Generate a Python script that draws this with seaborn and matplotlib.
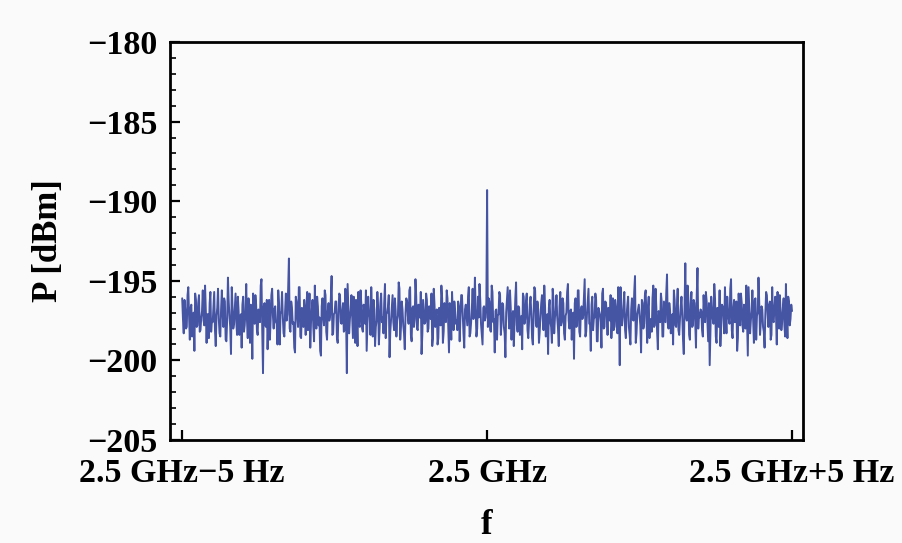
import seaborn as sns
import matplotlib.pyplot as plt
from matplotlib.ticker import MultipleLocator
import pandas as pd
import numpy as np

# Offset frequency from 2.5 GHz [Hz]
f_start, f_stop = -5.0, 5.0

# Measured power [dBm] on the main sample grid, left to right
power_a = [
    -196.1, -198.3, -196.8, -197.9, -195.4, -198.7, -196.5, -197.3, -199.4, -196.2,
    -197.8, -195.9, -198.1, -196.9, -197.5, -195.3, -198.9, -197.1, -196.4, -198.2,
    -197.6, -195.7, -199.1, -196.7, -197.4, -198.5, -195.6, -197.9, -196.3, -198.8,
    -194.8, -197.2, -199.6, -196.6, -197.7, -195.8, -198.4, -196.9, -197.3, -199.2,
    -196.0, -197.8, -195.2, -198.6, -197.0, -196.5, -199.9, -197.4, -195.9, -198.1,
    -196.8, -197.6, -194.9, -200.8, -196.4, -197.9, -199.3, -196.2, -197.5, -195.5,
    -198.0, -196.6, -197.7, -195.6, -199.0, -196.9, -197.3, -198.5, -195.8, -197.1,
    -193.6, -198.2, -196.7, -197.6, -199.5, -196.3, -197.9, -195.4, -198.6, -197.0,
    -196.2, -198.4, -195.7, -197.5, -199.2, -196.8, -197.9, -195.3, -198.0, -196.6,
    -197.3, -199.7, -196.1, -197.8, -195.9, -198.7, -196.4, -197.2, -194.7, -198.3,
    -197.0, -196.3, -198.9, -195.8, -197.6, -196.9, -198.2, -195.5, -200.8, -196.7,
    -197.4, -195.9, -198.6, -197.1, -196.2, -199.1, -197.8, -195.6, -198.0, -196.5,
    -197.7, -199.4, -196.0, -197.3, -195.4, -198.5, -196.8, -197.9, -195.7, -199.0,
    -196.4, -197.6, -198.3, -195.2, -197.1, -196.6, -199.8, -197.4, -195.9, -198.1,
    -196.9, -197.5, -195.1, -198.7, -196.3, -197.8, -199.3, -196.1, -197.2, -195.6,
    -198.4, -196.7, -197.9, -194.9, -198.0, -196.5, -197.3, -199.6, -196.2, -197.7,
    -195.8, -198.2, -196.6, -197.4, -199.1, -195.5, -197.9, -196.8, -198.6, -197.0,
    -195.3, -198.9, -196.4, -197.6, -196.1, -199.5, -197.2, -195.7, -198.1, -196.9,
    -197.5, -196.3, -198.8, -195.9, -197.1, -199.2, -196.5, -197.8, -195.4, -198.3,
    -196.7, -197.4, -194.8, -198.5, -196.0, -195.2, -197.7, -199.0, -196.6, -197.3,
    -189.3,
    -196.1, -198.1, -195.3, -197.6, -199.5, -196.8, -197.2, -195.7, -198.4, -196.4,
    -197.9, -199.8, -196.2, -197.0, -195.6, -198.7, -196.9, -197.5, -195.1, -198.2,
    -196.7, -197.8, -199.3, -196.0, -197.4, -195.8, -198.6, -196.5, -197.1, -199.0,
    -195.4, -197.7, -196.3, -198.9, -197.2, -195.9, -198.1, -196.6, -197.5, -199.6,
    -196.2, -197.9, -195.5, -198.3, -196.9, -197.3, -199.1, -195.7, -197.6, -196.4,
    -198.7, -197.0, -195.2, -198.0, -196.8, -197.5, -199.9, -196.1, -197.8, -195.6,
    -198.5, -196.6, -197.2, -194.9, -198.2, -196.3, -197.7, -199.4, -196.0, -197.4,
    -195.8, -198.8, -196.7, -197.1, -199.2, -195.5, -197.9, -196.4, -198.4, -197.0,
    -195.9, -197.6, -198.1, -196.2, -197.8, -195.4, -200.3, -196.9, -197.3, -195.7,
    -198.6, -196.5, -197.9, -199.0, -196.1, -197.5, -194.7, -198.3, -196.8, -197.2,
    -199.5, -196.4, -197.7, -195.6, -198.9, -196.0, -197.4, -198.2, -195.3, -197.8,
    -196.7, -199.3, -197.1, -195.8, -198.5, -196.3, -197.6, -194.6, -198.0, -196.9,
    -197.3, -199.0, -196.2, -197.9, -195.5, -198.4, -196.6, -197.2, -199.6, -193.9,
    -197.5, -196.1, -198.7, -195.7, -197.8, -196.4, -199.2, -194.2, -197.0, -196.8,
    -198.1, -195.9, -197.6, -196.3, -198.8, -200.3, -196.0, -197.4, -195.2, -198.5,
    -196.7, -197.9, -199.1, -196.5, -197.1, -195.4, -198.3, -196.9, -197.7, -194.9,
    -198.6, -196.2, -197.3, -199.4, -195.8, -197.8, -196.4, -198.2, -197.0, -195.3,
    -199.7, -196.8, -197.5, -195.6, -198.9, -196.1, -197.2, -194.8, -198.4, -196.6,
    -197.9, -199.2, -195.7, -197.1, -196.5, -198.7, -195.4, -197.6, -196.0, -199.0,
    -197.3, -195.9, -198.1, -196.7, -197.8, -195.2, -198.6, -196.3, -197.4, -196.9,
]

# Power [dBm] at the samples lying between those above
power_b = [
    -197.4, -196.2, -198.0, -195.9, -197.2, -196.7, -198.5, -197.0, -195.8, -197.9,
    -196.4, -198.2, -197.3, -195.6, -197.8, -196.9, -197.1, -198.6, -195.7, -197.5,
    -196.6, -198.1, -197.2, -195.5, -198.3, -196.8, -197.0, -196.1, -198.7, -197.4,
    -196.3, -197.9, -195.4, -198.0, -196.7, -197.6, -196.0, -198.4, -197.1, -196.5,
    -198.2, -196.9, -197.5, -196.1, -198.9, -197.3, -195.8, -197.7, -196.5, -198.4,
    -197.0, -195.3, -198.1, -196.6, -197.8, -196.2, -197.4, -198.7, -195.9, -197.2,
    -196.8, -197.6, -199.0, -196.4, -197.1, -195.7, -198.3, -196.9, -197.5, -195.5,
    -198.0, -196.3, -197.7, -199.2, -196.0, -197.3, -195.4, -198.5, -196.7, -197.9,
    -197.0, -196.5, -198.1, -195.8, -197.6, -196.2, -198.8, -197.2, -196.0, -197.8,
    -199.4, -196.6, -197.3, -195.6, -198.2, -196.9, -197.5, -196.1, -198.4, -197.1,
    -196.3, -198.6, -197.0, -195.9, -197.7, -196.4, -198.1, -197.4, -195.2, -198.3,
    -196.8, -197.2, -196.0, -198.9, -197.5, -195.7, -197.9, -196.5, -198.2, -197.0,
    -195.6, -197.8, -196.9, -198.4, -197.1, -196.2, -199.1, -197.5, -196.6, -198.0,
    -195.8, -197.3, -196.4, -198.6, -197.0, -195.9, -198.2, -196.7, -197.6, -196.1,
    -198.5, -197.2, -195.5, -197.9, -196.8, -198.3, -197.0, -196.3, -197.7, -195.4,
    -198.8, -196.6, -197.4, -196.0, -198.1, -197.3, -195.7, -198.4, -196.9, -197.6,
    -196.2, -198.0, -197.3, -195.8, -198.6, -196.5, -197.1, -199.0, -196.7, -197.8,
    -196.1, -198.2, -197.5, -195.6, -197.9, -196.4, -198.7, -197.0, -196.3, -197.7,
    -198.1, -196.6, -197.4, -195.9, -198.3, -196.8, -197.2, -196.0, -198.5, -197.6,
    -195.5, -197.1, -196.9, -198.0, -197.3, -196.2, -198.4, -196.7, -197.5, -196.4,
    -197.9, -196.3, -198.2, -195.7, -197.4, -196.9, -198.7, -197.1, -195.9, -197.6,
    -196.5, -198.3, -197.0, -195.4, -198.0, -196.7, -197.3, -199.1, -196.1, -197.8,
    -196.6, -198.4, -197.2, -195.8, -197.7, -196.3, -198.1, -197.5, -196.0, -198.6,
    -197.0, -195.6, -197.9, -196.8, -198.2, -196.4, -197.4, -195.3, -198.5, -197.1,
    -196.7, -197.6, -198.9, -196.2, -197.3, -195.9, -198.0, -196.6, -197.8, -196.1,
    -198.3, -197.2, -195.7, -197.5, -196.9, -198.7, -197.0, -196.4, -197.9, -195.6,
    -198.2, -196.8, -197.4, -196.0, -198.5, -197.1, -195.5, -197.7, -196.5, -198.1,
    -197.3, -196.2, -198.8, -196.9, -197.6, -195.8, -198.0, -196.3, -197.2, -196.7,
    -197.5, -198.6, -196.1, -197.9, -196.6, -198.3, -197.0, -195.4, -197.8, -196.4,
    -198.1, -197.2, -196.0, -198.4, -196.8, -197.4, -195.7, -198.9, -197.1, -196.5,
    -197.8, -196.2, -198.0, -195.9, -197.3, -196.7, -198.6, -197.5, -196.1, -197.9,
    -195.5, -198.2, -196.9, -197.6, -196.3, -198.5, -197.0, -195.8, -197.7, -196.4,
    -198.3, -197.1, -195.6, -197.8, -196.6, -198.1, -197.4, -196.0, -198.7, -196.8,
    -197.2, -195.3, -198.4, -196.5, -197.9, -196.2, -197.6, -195.9, -198.0, -197.3,
    -196.9, -198.5, -197.0, -195.7, -197.5, -196.4, -198.2, -196.8, -197.7, -196.1,
    -198.9, -197.3, -195.6, -197.9, -196.6, -198.3, -197.1, -196.0, -197.4, -195.5,
    -198.1, -196.7, -197.6, -196.3, -198.6, -197.2, -195.8, -197.8, -196.5, -198.0,
    -197.4, -195.4, -198.3, -196.9, -197.5, -196.2, -198.7, -197.0, -196.4, -197.7,
    -196.8, -198.2, -197.1, -195.9, -197.9, -196.3, -198.4, -197.5, -196.6, -197.2,
    -195.7, -198.0, -196.9, -197.6, -196.1, -198.5, -197.3, -196.0, -197.8, -196.5,
]

tick_pos = [-5, 0, 5]
tick_labels = ['2.5 GHz\u22125 Hz', '2.5 GHz', '2.5 GHz+5 Hz']

# merge the two sample sets into one trace in frequency order
power = np.empty(len(power_a) + len(power_b))
power[0::2] = power_a
power[1::2] = power_b

df = pd.DataFrame({
    'f': np.linspace(f_start, f_stop, len(power)),
    'P': power,
})

sns.set_style('ticks')
plt.rcParams['font.family'] = ['Liberation Serif', 'DejaVu Serif']
plt.rcParams['font.weight'] = 'bold'
plt.rcParams['text.color'] = 'black'
plt.rcParams['axes.labelcolor'] = 'black'
plt.rcParams['xtick.color'] = 'black'
plt.rcParams['ytick.color'] = 'black'

bg = '#f9faf9'
fig = plt.figure(figsize=(903/100, 543/100), dpi=100, facecolor=bg)
ax = fig.add_axes([170/903, 1 - 440/543, 633/903, 398/543], facecolor=bg)

sns.lineplot(data=df, x='f', y='P', ax=ax, color='#4654a4', linewidth=1.4,
             estimator=None, sort=False)

ax.set_xlim(-5.2, 5.18)
ax.set_ylim(-205, -180)
ax.set_xticks(tick_pos)
ax.set_xticklabels(tick_labels)
ax.yaxis.set_major_locator(MultipleLocator(5))
ax.yaxis.set_minor_locator(MultipleLocator(1))

for s in ax.spines.values():
    s.set_visible(True)
    s.set_linewidth(2)
    s.set_color('black')

ax.tick_params(axis='both', which='major', direction='in', length=7, width=1.6,
               labelsize=24.5)
ax.tick_params(axis='y', which='minor', direction='in', length=4, width=1.2)
ax.tick_params(axis='y', which='major', pad=9)
ax.tick_params(axis='x', which='major', pad=13)
ax.tick_params(top=False, right=False, which='both')

ax.set_xlabel('f', fontsize=25, fontweight='bold', labelpad=14)
ax.set_ylabel('P [dBm]', fontsize=25, fontweight='bold', labelpad=16)

plt.savefig('out.png', dpi=100, facecolor=bg)
plt.close()
